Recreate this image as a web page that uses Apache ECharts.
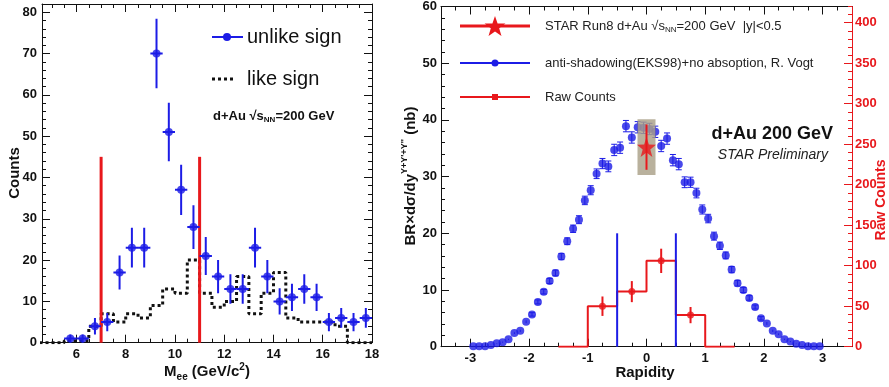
<!DOCTYPE html>
<html>
<head>
<meta charset="utf-8">
<script src="https://cdn.jsdelivr.net/npm/echarts@6/dist/echarts.min.js"></script>
<style>
  html, body { margin: 0; padding: 0; background: #ffffff; }
  #chart { width: 889px; height: 387px; }
</style>
</head>
<body>
<div id="chart"></div>
<script>
// ---------- Left panel: dielectron invariant mass spectrum ----------
const massCenters = [5.75, 6.25, 6.75, 7.25, 7.75, 8.25, 8.75, 9.25, 9.75, 10.25, 10.75, 11.25, 11.75,
  12.25, 12.75, 13.25, 13.75, 14.25, 14.75, 15.25, 15.75, 16.25, 16.75, 17.25, 17.75];
const unlikeCounts = [1, 1, 4, 5, 17, 23, 23, 70, 51, 37, 28, 21, 16, 13, 13, 23, 16, 10, 11, 13, 11, 5, 6, 5, 6];
const unlikeErrors = [1, 1, 2, 2.2, 4.1, 4.8, 4.8, 8.4, 7.1, 6.1, 5.3, 4.6, 4, 3.6, 3.6, 4.8, 4, 3.2, 3.3, 3.6, 3.3, 2.2, 2.4, 2.2, 2.4];
const massBinHalfWidth = 0.25;

const likeEdges = [4.5, 5, 5.5, 6, 6.5, 7, 7.5, 8, 8.5, 9, 9.5, 10, 10.5, 11, 11.5, 12, 12.5, 13, 13.5,
  14, 14.5, 15, 15.5, 16, 16.5, 17, 17.5, 18];
const likeCounts = [0, 0, 0.5, 0.5, 4, 7, 5, 7, 6, 9, 13, 12, 20, 12, 8.6, 10, 16, 7, 12, 17, 6, 5, 5, 5, 4, 0, 0];

const massWindow = [7, 11];
const massWindowHeight = 45;

const massTickLabels = [6, 8, 10, 12, 14, 16, 18];
const countTickLabels = [0, 10, 20, 30, 40, 50, 60, 70, 80];

// ---------- Right panel: rapidity distribution ----------
const rapidityCenters = [-2.95, -2.85, -2.75, -2.65, -2.55, -2.45, -2.35, -2.25, -2.15, -2.05,
  -1.95, -1.85, -1.75, -1.65, -1.55, -1.45, -1.35, -1.25, -1.15, -1.05,
  -0.95, -0.85, -0.75, -0.65, -0.55, -0.45, -0.35, -0.25, -0.15, -0.05,
  0.05, 0.15, 0.25, 0.35, 0.45, 0.55, 0.65, 0.75, 0.85, 0.95,
  1.05, 1.15, 1.25, 1.35, 1.45, 1.55, 1.65, 1.75, 1.85, 1.95,
  2.05, 2.15, 2.25, 2.35, 2.45, 2.55, 2.65, 2.75, 2.85, 2.95];
const theoryXsec = [0.1, 0.1, 0.1, 0.3, 0.6, 0.8, 1.3, 2.4, 2.8, 4.4,
  5.7, 7.9, 9.7, 11.6, 13.0, 15.9, 18.6, 20.8, 22.4, 25.8,
  27.6, 30.5, 32.3, 31.8, 34.7, 35.1, 38.9, 36.9, 38.7, 38.6,
  38.4, 37.9, 35.4, 36.7, 32.9, 32.2, 29.0, 29.0, 27.1, 24.2,
  22.6, 19.5, 17.8, 16.1, 13.6, 11.2, 10.0, 8.6, 7.0, 5.0,
  4.1, 2.8, 2.2, 1.3, 0.9, 0.5, 0.3, 0.1, 0.1, 0.1];
const theoryErrors = [0.05, 0.05, 0.05, 0.05, 0.05, 0.1, 0.1, 0.15, 0.2, 0.25,
  0.3, 0.35, 0.4, 0.45, 0.5, 0.55, 0.6, 0.65, 0.7, 0.75,
  0.8, 0.85, 0.9, 0.95, 1.0, 1.0, 1.0, 1.0, 1.0, 1.0,
  1.0, 1.0, 1.0, 1.0, 1.0, 1.0, 0.95, 0.9, 0.85, 0.8,
  0.75, 0.7, 0.65, 0.6, 0.55, 0.5, 0.45, 0.4, 0.35, 0.3,
  0.25, 0.2, 0.15, 0.1, 0.1, 0.05, 0.05, 0.05, 0.05, 0.05];

const rawEdges = [-1.5, -1, -0.5, 0, 0.5, 1, 1.5];
const rawBinCounts = [0, 50, 68, 106, 39, 0];
const rawCenters = [-0.75, -0.25, 0.25, 0.75];
const rawPointCounts = [50, 68, 106, 39];
const rawErrors = [12, 13, 15, 10];

const rapidityWindow = [-0.5, 0.5];
const rapidityWindowHeight = 20;

const starRapidity = 0;
const starXsec = 35.2;
const starStatErr = 4.0;
const starSysErr = 4.9;

const rapidityTickLabels = [-3, -2, -1, 0, 1, 2, 3];
const xsecTickLabels = [0, 10, 20, 30, 40, 50, 60];
const rawTickLabels = [0, 50, 100, 150, 200, 250, 300, 350, 400];

// ---------- styling ----------
const FONT = '"Liberation Sans", Arial, Helvetica, sans-serif';
const BLUE = '#1c1ce6';
const RED = '#e8181c';
const INK = '#111111';
const STAR_PATH = 'path://M50,0L61.76,33.82L97.55,34.55L69.02,56.18L79.39,90.45L50,70L20.61,90.45L30.98,56.18L2.45,34.55L38.24,33.82Z';

function stepValues(lo, hi, step, skip) {
  const out = [];
  for (let v = lo; v <= hi + 1e-9; v += step) {
    const r = Math.round(v * 1000) / 1000;
    if (!skip.some(s => Math.abs(s - r) < 1e-6)) out.push(r);
  }
  return out;
}

function axis(gridIndex, min, max, position, ticks, tickLen, labels, color, showLine) {
  return {
    type: 'value', gridIndex, min, max, position,
    axisLine: { show: showLine, onZero: false, lineStyle: { color, width: 1 } },
    axisTick: { show: true, inside: true, length: tickLen, customValues: ticks, lineStyle: { color, width: 1 } },
    axisLabel: labels
      ? { show: true, customValues: labels, color, fontFamily: FONT, fontWeight: 'bold', fontSize: 13, margin: 5 }
      : { show: false },
    splitLine: { show: false },
    minorTick: { show: false }
  };
}

// step-line points from histogram edges
function histPoints(edges, counts) {
  const pts = counts.map((c, i) => [edges[i], c]);
  pts.push([edges[edges.length - 1], counts[counts.length - 1]]);
  return pts;
}

function errorBars(color, width, cap) {
  return function (params, api) {
    const x = api.value(0), y = api.value(1), ey = api.value(2), ex = api.value(3);
    const style = { stroke: color, lineWidth: width };
    const lo = api.coord([x, y - ey]), hi = api.coord([x, y + ey]);
    const children = [{ type: 'line', shape: { x1: lo[0], y1: lo[1], x2: hi[0], y2: hi[1] }, style }];
    if (ex > 0) {
      const l = api.coord([x - ex, y]), r = api.coord([x + ex, y]);
      children.push({ type: 'line', shape: { x1: l[0], y1: l[1], x2: r[0], y2: r[1] }, style });
    }
    if (cap > 0 && Math.abs(hi[1] - lo[1]) > 3) {
      children.push({ type: 'line', shape: { x1: lo[0] - cap, y1: lo[1], x2: lo[0] + cap, y2: lo[1] }, style });
      children.push({ type: 'line', shape: { x1: hi[0] - cap, y1: hi[1], x2: hi[0] + cap, y2: hi[1] }, style });
    }
    return { type: 'group', children };
  };
}

function verticalLines(color, width) {
  return function (params, api) {
    const x = api.value(0), top = api.value(1);
    const a = api.coord([x, 0]), b = api.coord([x, top]);
    return { type: 'line', shape: { x1: a[0], y1: a[1], x2: b[0], y2: b[1] }, style: { stroke: color, lineWidth: width } };
  };
}

function starShape(cx, cy, R, r) {
  const pts = [];
  for (let k = 0; k < 10; k++) {
    const ang = -Math.PI / 2 + k * Math.PI / 5;
    const rad = k % 2 === 0 ? R : r;
    pts.push([cx + rad * Math.cos(ang), cy + rad * Math.sin(ang)]);
  }
  return pts;
}

// ---------- axes ----------
const massMinor = stepValues(5, 17.5, 0.5, massTickLabels);
const countMinor = stepValues(2, 82, 2, countTickLabels);
const rapMinor = stepValues(-3.25, 3.25, 0.25, rapidityTickLabels);
const xsecMinor = stepValues(2, 58, 2, xsecTickLabels);
const rawMinor = stepValues(10, 420, 10, rawTickLabels);

const xAxes = [
  axis(0, 4.6, 18, 'bottom', massTickLabels, 8, massTickLabels, INK, true),
  axis(0, 4.6, 18, 'bottom', massMinor, 4, null, INK, false),
  axis(0, 4.6, 18, 'top', massTickLabels, 8, null, INK, true),
  axis(0, 4.6, 18, 'top', massMinor, 4, null, INK, false),
  axis(1, -3.5, 3.5, 'bottom', rapidityTickLabels, 8, rapidityTickLabels, INK, true),
  axis(1, -3.5, 3.5, 'bottom', rapMinor, 4, null, INK, false),
  axis(1, -3.5, 3.5, 'top', rapidityTickLabels, 8, null, INK, true),
  axis(1, -3.5, 3.5, 'top', rapMinor, 4, null, INK, false)
];
const yAxes = [
  axis(0, 0, 82, 'left', countTickLabels, 8, countTickLabels, INK, true),
  axis(0, 0, 82, 'left', countMinor, 4, null, INK, false),
  axis(0, 0, 82, 'right', countTickLabels, 8, null, INK, true),
  axis(0, 0, 82, 'right', countMinor, 4, null, INK, false),
  axis(1, 0, 60, 'left', xsecTickLabels, 8, xsecTickLabels, INK, true),
  axis(1, 0, 60, 'left', xsecMinor, 4, null, INK, false),
  axis(1, 0, 420, 'right', rawTickLabels, 8, rawTickLabels, RED, true),
  axis(1, 0, 420, 'right', rawMinor, 4, null, RED, false)
];
yAxes[6].axisLabel.margin = 3;
yAxes[4].axisLabel.margin = 4;

// ---------- series ----------
const series = [
  // like-sign background (dotted histogram)
  {
    type: 'line', xAxisIndex: 0, yAxisIndex: 0, step: 'end', symbol: 'none', z: 2,
    data: histPoints(likeEdges, likeCounts),
    lineStyle: { color: INK, width: 3, type: [3, 3], cap: 'butt' }
  },
  // mass window
  {
    type: 'custom', xAxisIndex: 0, yAxisIndex: 0, z: 3,
    data: massWindow.map(m => [m, massWindowHeight]),
    renderItem: verticalLines(RED, 3)
  },
  // unlike-sign error bars
  {
    type: 'custom', xAxisIndex: 0, yAxisIndex: 0, z: 4, clip: true,
    data: massCenters.map((m, i) => [m, unlikeCounts[i], unlikeErrors[i], massBinHalfWidth]),
    renderItem: errorBars(BLUE, 2, 0)
  },
  // unlike-sign points
  {
    type: 'scatter', xAxisIndex: 0, yAxisIndex: 0, z: 5, symbol: 'circle', symbolSize: 8,
    data: massCenters.map((m, i) => [m, unlikeCounts[i]]),
    itemStyle: { color: BLUE }
  },
  // model curve error bars
  {
    type: 'custom', xAxisIndex: 4, yAxisIndex: 4, z: 3, clip: true,
    data: rapidityCenters.map((y, i) => [y, theoryXsec[i], theoryErrors[i], 0]),
    renderItem: errorBars(BLUE, 1, 3)
  },
  // model curve points
  {
    type: 'scatter', xAxisIndex: 4, yAxisIndex: 4, z: 4, symbol: 'circle', symbolSize: 8,
    data: rapidityCenters.map((y, i) => [y, theoryXsec[i]]),
    itemStyle: { color: BLUE }
  },
  // raw counts histogram
  {
    type: 'line', xAxisIndex: 4, yAxisIndex: 6, step: 'end', symbol: 'none', z: 5,
    data: histPoints(rawEdges, rawBinCounts),
    lineStyle: { color: RED, width: 2 }
  },
  {
    type: 'custom', xAxisIndex: 4, yAxisIndex: 6, z: 6,
    data: rawCenters.map((y, i) => [y, rawPointCounts[i], rawErrors[i], 0]),
    renderItem: errorBars(RED, 2, 0)
  },
  {
    type: 'scatter', xAxisIndex: 4, yAxisIndex: 6, z: 6, symbol: 'circle', symbolSize: 7,
    data: rawCenters.map((y, i) => [y, rawPointCounts[i]]),
    itemStyle: { color: RED }
  },
  // rapidity window
  {
    type: 'custom', xAxisIndex: 4, yAxisIndex: 4, z: 7,
    data: rapidityWindow.map(y => [y, rapidityWindowHeight]),
    renderItem: verticalLines(BLUE, 2)
  },
  // systematic uncertainty box
  {
    type: 'custom', xAxisIndex: 4, yAxisIndex: 4, z: 8,
    data: [[starRapidity, starXsec, starSysErr]],
    renderItem: function (params, api) {
      const x = api.value(0), y = api.value(1), e = api.value(2);
      const a = api.coord([x, y + e]), b = api.coord([x, y - e]);
      const half = 9;
      return { type: 'rect', shape: { x: a[0] - half, y: a[1], width: 2 * half, height: b[1] - a[1] },
        style: { fill: 'rgba(170,160,135,0.82)' } };
    }
  },
  // measured point: stat error + star
  {
    type: 'custom', xAxisIndex: 4, yAxisIndex: 4, z: 9,
    data: [[starRapidity, starXsec, starStatErr, 0]],
    renderItem: errorBars(RED, 2, 0)
  },
  {
    type: 'scatter', xAxisIndex: 4, yAxisIndex: 4, z: 10, symbol: STAR_PATH, symbolSize: [19, 20],
    data: [[starRapidity, starXsec]],
    itemStyle: { color: RED }
  }
];

// ---------- text, legends and axis titles ----------
const txt = (x, y, text, extra) => ({
  type: 'text', x, y, z: 100,
  style: Object.assign({ text, fill: INK, font: '13px ' + FONT, textVerticalAlign: 'middle' }, extra || {})
});

const graphic = [
  // left legend
  { type: 'line', z: 100, shape: { x1: 212, y1: 37, x2: 243, y2: 37 }, style: { stroke: BLUE, lineWidth: 2 } },
  { type: 'circle', z: 101, shape: { cx: 227, cy: 37, r: 4 }, style: { fill: BLUE } },
  txt(247, 37, 'unlike sign', { font: '20px ' + FONT }),
  { type: 'line', z: 100, shape: { x1: 212, y1: 79, x2: 236, y2: 79 }, style: { stroke: INK, lineWidth: 3, lineDash: [3, 3] } },
  txt(247, 79, 'like sign', { font: '20px ' + FONT }),
  {
    type: 'text', x: 213, y: 116, z: 100,
    style: {
      text: '{b|d+Au √s}{s|NN}{b|=200 GeV}', textVerticalAlign: 'middle',
      rich: {
        b: { fontFamily: FONT, fontWeight: 'bold', fontSize: 13, fill: INK, lineHeight: 16 },
        s: { fontFamily: FONT, fontWeight: 'bold', fontSize: 8, fill: INK, lineHeight: 8, verticalAlign: 'bottom' }
      }
    }
  },
  // left axis titles
  {
    type: 'text', x: 15, y: 173, rotation: Math.PI / 2, z: 100,
    style: { text: 'Counts', font: 'bold 15px ' + FONT, fill: INK, textAlign: 'center', textVerticalAlign: 'middle' }
  },
  {
    type: 'text', x: 207, y: 372, z: 100,
    style: {
      text: '{b|M}{s|ee}{b| (GeV/c}{p|2}{b|)}', textAlign: 'center', textVerticalAlign: 'middle',
      rich: {
        b: { fontFamily: FONT, fontWeight: 'bold', fontSize: 15, fill: INK, lineHeight: 20 },
        s: { fontFamily: FONT, fontWeight: 'bold', fontSize: 10, fill: INK, lineHeight: 10, verticalAlign: 'bottom' },
        p: { fontFamily: FONT, fontWeight: 'bold', fontSize: 10, fill: INK, lineHeight: 10, verticalAlign: 'top' }
      }
    }
  },
  // right legend
  { type: 'line', z: 100, shape: { x1: 460, y1: 26, x2: 530, y2: 26 }, style: { stroke: RED, lineWidth: 3 } },
  { type: 'polygon', z: 101, shape: { points: starShape(495, 27, 11, 4.4) }, style: { fill: RED } },
  {
    type: 'text', x: 545, y: 26, z: 100,
    style: {
      text: '{n|STAR Run8 d+Au √s}{s|NN}{n|=200 GeV  |y|<0.5}', textVerticalAlign: 'middle',
      rich: {
        n: { fontFamily: FONT, fontSize: 13, fill: '#222', lineHeight: 16 },
        s: { fontFamily: FONT, fontSize: 8, fill: '#222', lineHeight: 8, verticalAlign: 'bottom' }
      }
    }
  },
  { type: 'line', z: 100, shape: { x1: 460, y1: 63, x2: 530, y2: 63 }, style: { stroke: BLUE, lineWidth: 2 } },
  { type: 'circle', z: 101, shape: { cx: 495, cy: 63, r: 3.5 }, style: { fill: BLUE } },
  txt(545, 63, 'anti-shadowing(EKS98)+no absoption, R. Vogt', { fill: '#222' }),
  { type: 'line', z: 100, shape: { x1: 460, y1: 97, x2: 530, y2: 97 }, style: { stroke: RED, lineWidth: 2 } },
  { type: 'rect', z: 101, shape: { x: 492, y: 94, width: 6, height: 6 }, style: { fill: RED } },
  txt(545, 97, 'Raw Counts', { fill: '#222' }),
  // right panel labels
  txt(833, 134, 'd+Au 200 GeV', { font: 'bold 18px ' + FONT, textAlign: 'right' }),
  txt(828, 155, 'STAR Preliminary', { font: 'italic 14px ' + FONT, textAlign: 'right', fill: '#222' }),
  // right axis titles
  {
    type: 'text', x: 411, y: 176, rotation: Math.PI / 2, z: 100,
    style: {
      text: '{b|BR×dσ/dy}{p|Υ+Υ\'+Υ\'\'}{b| (nb)}', textAlign: 'center', textVerticalAlign: 'middle',
      rich: {
        b: { fontFamily: FONT, fontWeight: 'bold', fontSize: 15, fill: INK, lineHeight: 22 },
        p: { fontFamily: FONT, fontWeight: 'bold', fontSize: 9, fill: INK, lineHeight: 9, verticalAlign: 'top' }
      }
    }
  },
  {
    type: 'text', x: 645, y: 373, z: 100,
    style: { text: 'Rapidity', font: 'bold 15px ' + FONT, fill: INK, textAlign: 'center', textVerticalAlign: 'middle' }
  },
  {
    type: 'text', x: 881, y: 200, rotation: Math.PI / 2, z: 100,
    style: { text: 'Raw Counts', font: 'bold 14px ' + FONT, fill: RED, textAlign: 'center', textVerticalAlign: 'middle' }
  }
];

const chart = echarts.init(document.getElementById('chart'), null, { renderer: 'canvas' });
chart.setOption({
  backgroundColor: '#ffffff',
  animation: false,
  grid: [
    { left: 42, top: 4, width: 330, height: 338.7, containLabel: false },
    { left: 441, top: 6.5, width: 411, height: 340.2, containLabel: false }
  ],
  xAxis: xAxes,
  yAxis: yAxes,
  series,
  graphic
});
</script>
</body>
</html>
